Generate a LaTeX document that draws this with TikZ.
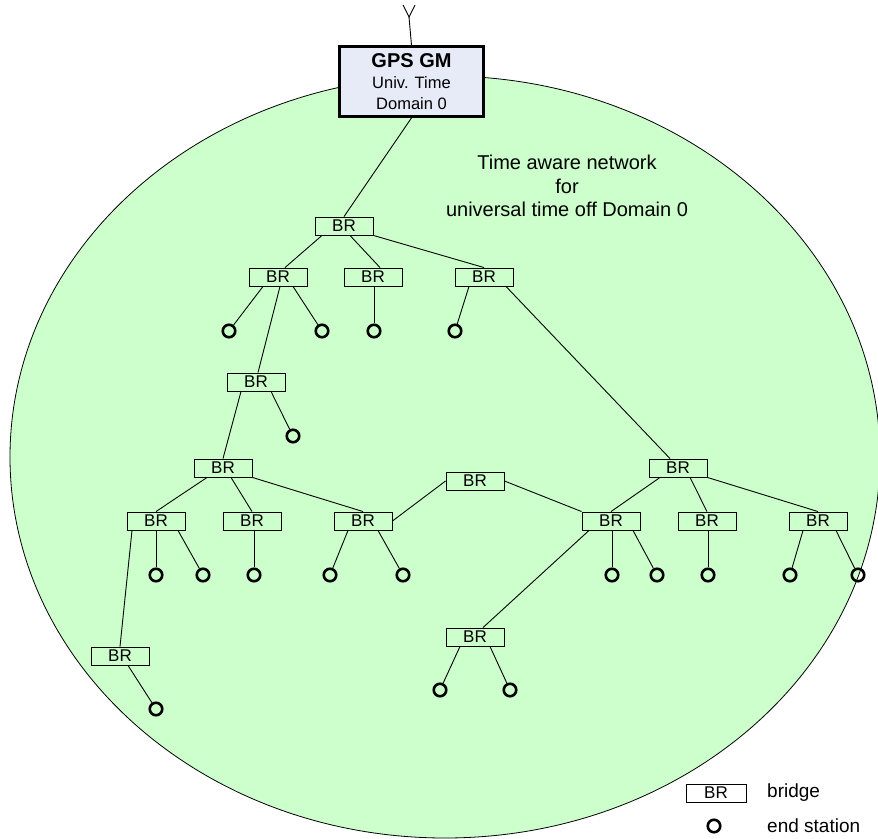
\documentclass[tikz,border=0pt]{standalone}
\usepackage{fontspec}
\setmainfont{Liberation Sans}
\definecolor{netgreen}{HTML}{CCFFCC}
\definecolor{gmfill}{HTML}{E6EBF7}
\tikzset{
  brbox/.style={draw=black, line width=0.9pt, minimum width=58pt, minimum height=18pt, inner sep=0pt, font=\fontsize{17}{18}\selectfont},
  endst/.style={circle, draw=black, line width=2.6pt, minimum size=12.5pt, inner sep=0pt},
  link/.style={draw=black, line width=0.9pt},
  lbl/.style={inner sep=0pt, font=\fontsize{20}{23.5}\selectfont}
}
\begin{document}
\begin{tikzpicture}[x=1pt,y=-1pt]
\useasboundingbox (0,0) rectangle (878,838);
% network ellipse
\draw[fill=netgreen, draw=black, line width=0.8pt] (445,457) ellipse [x radius=435pt, y radius=381pt];
% antenna
\coordinate (antL) at (403,5);
\coordinate (antR) at (415,5);
\coordinate (antM) at (409,17);
% GPS grandmaster
\node[draw=black, line width=2.8pt, fill=gmfill, minimum width=144pt, minimum height=70pt, inner sep=0pt, align=center, font=\fontsize{16.5}{21}\selectfont] (gps) at (411.5,81.5)
  {{\bfseries\fontsize{20}{20}\selectfont GPS GM}\\Univ. Time\\Domain 0};
\draw[link] (antL) -- (antM) -- (antR);
\draw[link] (antM) -- (gps.north);
% caption
\node[lbl, align=center] (cap) at (567,186) {Time aware network\\for\\universal time off Domain 0};
% bridges
\node[brbox] (br1) at (344,226) {BR};
\node[brbox] (br2) at (278,277) {BR};
\node[brbox] (br3) at (373,277) {BR};
\node[brbox] (br4) at (484,277) {BR};
\node[brbox] (br5) at (256,382) {BR};
\node[brbox] (br6) at (223,468) {BR};
\node[brbox] (br7) at (475,481) {BR};
\node[brbox] (br8) at (678,468) {BR};
\node[brbox] (br9) at (156,521) {BR};
\node[brbox] (br10) at (252,521) {BR};
\node[brbox] (br11) at (363,521) {BR};
\node[brbox] (br12) at (611,521) {BR};
\node[brbox] (br13) at (707,521) {BR};
\node[brbox] (br14) at (818,521) {BR};
\node[brbox] (br15) at (475,637) {BR};
\node[brbox] (br16) at (120,656) {BR};
% end stations
\node[endst] (e1) at (229,331) {};
\node[endst] (e2) at (322,331) {};
\node[endst] (e3) at (374,331) {};
\node[endst] (e4) at (455,331) {};
\node[endst] (e5) at (293,436) {};
\node[endst] (e6) at (156,575) {};
\node[endst] (e7) at (203,575) {};
\node[endst] (e8) at (254,575) {};
\node[endst] (e9) at (330,575) {};
\node[endst] (e10) at (403,575) {};
\node[endst] (e11) at (612,575) {};
\node[endst] (e12) at (657,575) {};
\node[endst] (e13) at (708,575) {};
\node[endst] (e14) at (790,575) {};
\node[endst] (e15) at (858,575) {};
\node[endst] (e16) at (440,690) {};
\node[endst] (e17) at (510,690) {};
\node[endst] (e18) at (156,709) {};
% links
\draw[link] (gps.south) -- (br1.north);
\draw[link] ([xshift=-22]br1.south) -- ([xshift=7]br2.north);
\draw[link] ([xshift=6]br1.south) -- ([xshift=7]br3.north);
\draw[link] (br1.south east) -- (br4.north);
\draw[link] ([xshift=-15]br2.south) -- (e1);
\draw[link] ([xshift=15]br2.south) -- (e2);
\draw[link] ([xshift=2]br2.south) -- ([xshift=2]br5.north);
\draw[link] ([xshift=1]br3.south) -- (e3);
\draw[link] ([xshift=-15]br4.south) -- (e4);
\draw[link] ([xshift=22]br4.south) -- ([xshift=-8]br8.north);
\draw[link] ([xshift=15]br5.south) -- (e5);
\draw[link] ([xshift=-15]br5.south) -- (br6.north);
\draw[link] ([xshift=-16]br6.south) -- (br9.north);
\draw[link] ([xshift=8]br6.south) -- (br10.north);
\draw[link] (br6.south east) -- (br11.north);
\draw[link] ([xshift=-24]br9.south) -- (br16.north);
\draw[link] (br9.south) -- (e6);
\draw[link] ([xshift=22]br9.south) -- (e7);
\draw[link] ([xshift=2]br10.south) -- (e8);
\draw[link] ([xshift=-15]br11.south) -- (e9);
\draw[link] ([xshift=15]br11.south) -- (e10);
\draw[link] (br11.east) -- (br7.west);
\draw[link] (br7.east) -- (br12.north west);
\draw[link] ([xshift=-18]br8.south) -- (br12.north);
\draw[link] ([xshift=12]br8.south) -- (br13.north);
\draw[link] (br8.south east) -- (br14.north);
\draw[link] ([xshift=-22]br12.south) -- ([xshift=8]br15.north);
\draw[link] ([xshift=1]br12.south) -- (e11);
\draw[link] ([xshift=22]br12.south) -- (e12);
\draw[link] ([xshift=1]br13.south) -- (e13);
\draw[link] ([xshift=-15]br14.south) -- (e14);
\draw[link] ([xshift=18]br14.south) -- (e15);
\draw[link] ([xshift=-15]br15.south) -- (e16);
\draw[link] ([xshift=15]br15.south) -- (e17);
\draw[link] ([xshift=8]br16.south) -- (e18);
% legend
\node[brbox, minimum width=60pt] (lgbr) at (716,793) {BR};
\node[endst] (lgst) at (714,826) {};
\node[lbl, anchor=west, font=\fontsize{19}{20}\selectfont] (lgbrt) at (767,793) {bridge};
\node[lbl, anchor=west, font=\fontsize{19}{20}\selectfont] (lgstt) at (767,826) {end station};
\end{tikzpicture}
\end{document}
